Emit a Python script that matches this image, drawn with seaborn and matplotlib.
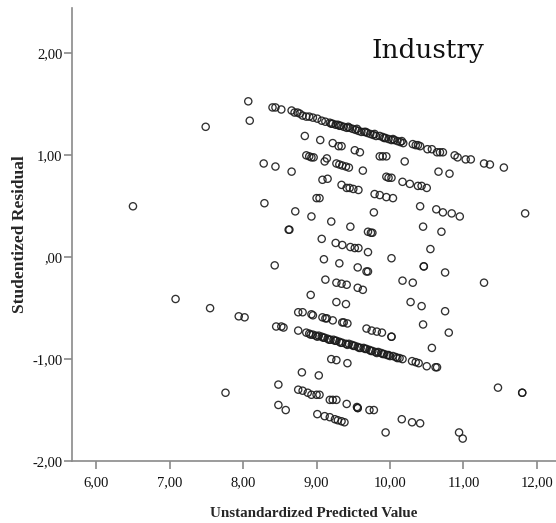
import matplotlib
matplotlib.use("Agg")
import matplotlib.pyplot as plt
import seaborn as sns
import pandas as pd
from matplotlib.ticker import FuncFormatter

# ---- data ----
# scattered points on the left side
left_x = [6.50, 7.49, 8.07, 8.09, 8.28, 8.44, 8.29, 7.08, 7.55, 7.94, 8.02, 7.76, 8.43,
          8.48, 8.48, 8.58, 8.66, 8.62, 8.63, 8.71]
left_y = [0.50, 1.28, 1.53, 1.34, 0.92, 0.89, 0.53, -0.41, -0.50, -0.58, -0.59, -1.33, -0.08,
          -1.25, -1.45, -1.50, 0.84, 0.27, 0.27, 0.45]

# top band (highest residual line)
top_x = [8.40, 8.44, 8.52, 8.66, 8.70, 8.74, 8.77, 8.81, 8.86, 8.90, 8.95, 9.01, 9.07, 9.12,
         9.18, 9.22, 9.26, 9.29, 9.33, 9.37, 9.41, 9.45, 9.49, 9.53, 9.57, 9.61, 9.65, 9.69,
         9.73, 9.77, 9.81, 9.86, 9.90, 9.94, 9.98, 10.02, 10.06, 10.10, 10.14, 10.18,
         9.20, 9.31, 9.43, 9.55, 9.67, 9.79, 9.92, 10.04, 10.16,
         10.31, 10.35, 10.38, 10.41, 10.51, 10.57, 10.64, 10.68, 10.72, 10.88, 10.92, 11.03,
         11.10, 11.28, 11.36, 11.55]
top_y = [1.47, 1.47, 1.45, 1.44, 1.42, 1.42, 1.41, 1.39, 1.38, 1.38, 1.37, 1.36, 1.34, 1.33,
         1.32, 1.31, 1.30, 1.30, 1.29, 1.28, 1.27, 1.27, 1.26, 1.25, 1.24, 1.23, 1.23, 1.22,
         1.21, 1.20, 1.19, 1.19, 1.18, 1.17, 1.16, 1.15, 1.15, 1.14, 1.13, 1.12,
         1.31, 1.29, 1.28, 1.26, 1.23, 1.21, 1.17, 1.16, 1.14,
         1.11, 1.10, 1.10, 1.09, 1.06, 1.06, 1.03, 1.03, 1.03, 1.00, 0.98, 0.96,
         0.96, 0.92, 0.91, 0.88]

# upper middle rows
mid_up_x = [8.84, 9.05, 9.22, 9.30, 9.34, 9.52, 9.59, 9.86, 9.90, 9.95, 10.20, 10.66, 10.81, 11.84,
            8.86, 8.90, 8.93, 8.96, 9.11, 9.14, 9.27, 9.31, 9.35, 9.40, 9.44, 9.63, 9.95, 9.98,
            10.02, 10.17, 10.27, 10.38, 10.43, 10.50,
            9.08, 9.15, 9.34, 9.41, 9.45, 9.50, 9.57, 9.79, 9.86, 9.95, 10.04, 9.00, 9.04,
            10.41, 10.63, 10.72, 10.84, 10.95, 10.45, 10.70, 10.55]
mid_up_y = [1.19, 1.15, 1.12, 1.09, 1.09, 1.05, 1.03, 0.99, 0.99, 0.99, 0.94, 0.84, 0.82, 0.43,
            1.00, 0.99, 0.98, 0.98, 0.94, 0.97, 0.92, 0.91, 0.90, 0.89, 0.88, 0.85, 0.79, 0.78,
            0.78, 0.74, 0.72, 0.70, 0.70, 0.68,
            0.76, 0.77, 0.71, 0.68, 0.68, 0.67, 0.66, 0.62, 0.61, 0.59, 0.58, 0.58, 0.58,
            0.50, 0.47, 0.44, 0.43, 0.40, 0.30, 0.25, 0.08]

# centre rows (around zero)
centre_x = [8.93, 9.20, 9.46, 9.70, 9.74, 9.76, 9.78, 9.07, 9.26, 9.35, 9.46, 9.52, 9.57, 9.70,
            10.02, 9.10, 9.31, 9.56, 9.68, 9.70, 10.46, 10.46, 10.75, 11.28,
            9.12, 9.27, 9.34, 9.41, 9.56, 9.63, 10.17, 10.31, 8.92, 9.27, 9.40, 10.28, 10.43, 10.75]
centre_y = [0.40, 0.35, 0.30, 0.25, 0.24, 0.24, 0.44, 0.18, 0.14, 0.12, 0.10, 0.09, 0.09, 0.05,
            -0.01, -0.02, -0.06, -0.10, -0.14, -0.14, -0.09, -0.09, -0.15, -0.25,
            -0.22, -0.25, -0.26, -0.27, -0.30, -0.32, -0.23, -0.25, -0.37, -0.44, -0.46, -0.44, -0.48, -0.53]

# lower middle rows
mid_low_x = [8.75, 8.81, 8.93, 8.95, 9.08, 9.12, 9.14, 9.22, 9.35, 9.37, 9.42, 10.45,
             8.45, 8.52, 8.55, 9.68, 9.75, 9.82, 9.89, 10.02, 10.02, 10.80, 10.57]
mid_low_y = [-0.54, -0.54, -0.56, -0.57, -0.59, -0.60, -0.60, -0.62, -0.64, -0.64, -0.65, -0.66,
             -0.68, -0.68, -0.69, -0.70, -0.72, -0.73, -0.74, -0.78, -0.78, -0.74, -0.89]

# lower dense band
band_x = [8.75, 8.86, 8.90, 8.95, 8.99, 9.03, 9.07, 9.11, 9.15, 9.19, 9.23, 9.27, 9.31, 9.35,
          9.40, 9.44, 9.48, 9.52, 9.56, 9.60, 9.64, 9.68, 9.72, 9.76, 9.80, 9.84, 9.88, 9.92,
          9.96, 10.00, 10.04, 10.08, 10.13, 10.17, 10.30, 10.35, 10.39, 10.50, 10.62, 10.64,
          8.92, 9.01, 9.09, 9.17, 9.25, 9.33, 9.42, 9.50, 9.58, 9.66, 9.74, 9.82, 9.90, 9.98, 10.10]
band_y = [-0.72, -0.74, -0.75, -0.76, -0.77, -0.77, -0.78, -0.79, -0.80, -0.81, -0.81, -0.82,
          -0.83, -0.84, -0.85, -0.85, -0.86, -0.87, -0.88, -0.89, -0.89, -0.90, -0.91, -0.92,
          -0.93, -0.93, -0.94, -0.95, -0.96, -0.97, -0.97, -0.98, -0.99, -1.00, -1.02, -1.03,
          -1.04, -1.07, -1.08, -1.08,
          -0.76, -0.78, -0.79, -0.81, -0.82, -0.84, -0.86, -0.87, -0.89, -0.90, -0.92, -0.94,
          -0.95, -0.96, -0.99]

# bottom rows
bottom_x = [9.20, 9.27, 9.42, 8.80, 9.03, 11.47, 11.80, 11.80,
            8.75, 8.81, 8.88, 8.93, 9.00, 9.04, 9.18, 9.22, 9.27, 9.41, 9.55, 9.56, 9.56,
            9.72, 9.78, 9.01, 9.11, 9.18, 9.25, 9.29, 9.34, 9.38, 9.94, 10.16, 10.30, 10.41,
            10.94, 10.99]
bottom_y = [-1.00, -1.01, -1.04, -1.13, -1.16, -1.28, -1.33, -1.33,
            -1.30, -1.31, -1.33, -1.35, -1.35, -1.35, -1.40, -1.40, -1.40, -1.44, -1.47, -1.48, -1.48,
            -1.50, -1.50, -1.54, -1.56, -1.57, -1.59, -1.60, -1.61, -1.62, -1.72, -1.59, -1.62, -1.63,
            -1.72, -1.78]

x_ticks = [6, 7, 8, 9, 10, 11, 12]
y_ticks = [-2, -1, 0, 1, 2]
x_label = "Unstandardized Predicted Value"
y_label = "Studentized Residual"
title_text = "Industry"

pred = left_x + top_x + mid_up_x + centre_x + mid_low_x + band_x + bottom_x
resid = left_y + top_y + mid_up_y + centre_y + mid_low_y + band_y + bottom_y
df = pd.DataFrame({"pred": pred, "resid": resid})

# ---- plot ----
sns.set_style("ticks")
plt.rcParams["font.family"] = ["Liberation Serif", "DejaVu Serif"]

fig = plt.figure(figsize=(5.56, 5.23), dpi=100)
ax = fig.add_axes([72 / 556, 62 / 523, 484 / 556, 453 / 523])

sns.scatterplot(data=df, x="pred", y="resid", ax=ax, marker="o", s=27,
                facecolor="none", edgecolor="#1a1a1a", linewidth=0.95, alpha=0.9)

ax.set_xlim(5.67, 12.26)
ax.set_ylim(-2.0, 2.446)
ax.set_xticks(x_ticks)
ax.set_yticks(y_ticks)


def spss_fmt(v, p):
    s = ("%.2f" % v).replace(".", ",")
    if s in ("0,00", "-0,00"):
        s = ",00"
    return s


fmt = FuncFormatter(spss_fmt)
ax.xaxis.set_major_formatter(fmt)
ax.yaxis.set_major_formatter(fmt)

for side in ["top", "right"]:
    ax.spines[side].set_visible(False)
for side in ["left", "bottom"]:
    ax.spines[side].set_color("#8a8a8a")
    ax.spines[side].set_linewidth(1.2)
ax.tick_params(axis="both", direction="out", length=6, width=1.2, color="#8a8a8a",
               labelsize=10.5, labelcolor="#111111")
ax.tick_params(axis="x", pad=5)
ax.tick_params(axis="y", pad=1)

ax.set_xlabel(x_label, fontsize=10.8, fontweight="bold", labelpad=13)
ax.set_ylabel(y_label, fontsize=12.5, fontweight="bold", labelpad=3)

ax.text(0.618, 0.89, title_text, transform=ax.transAxes, fontsize=19,
        ha="left", va="baseline", family=["DejaVu Serif"], color="#111111")

fig.savefig("out.png", dpi=100)
